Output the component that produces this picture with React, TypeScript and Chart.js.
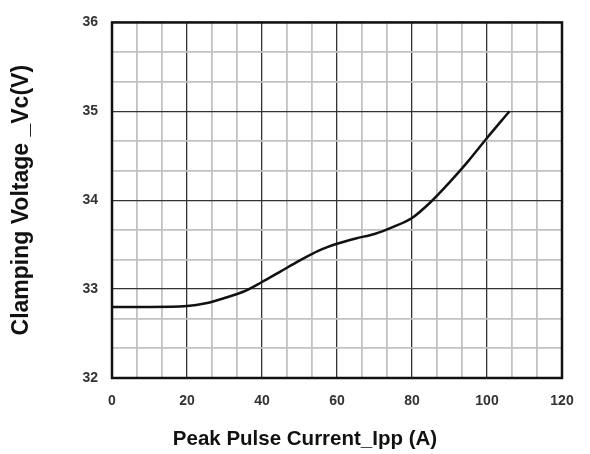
import React, { useEffect, useRef } from "react";
import { Chart, registerables } from "chart.js";

Chart.register(...registerables);

const currentA = [0, 10, 20, 25, 30, 35, 40, 45, 50, 55, 60, 65, 70, 75, 80, 85, 90, 95, 100, 106];
const voltageV = [32.8, 32.8, 32.81, 32.84, 32.9, 32.97, 33.08, 33.2, 33.32, 33.43, 33.51, 33.57, 33.62, 33.7, 33.8, 33.98, 34.2, 34.44, 34.7, 35.0];
const xMajorTicks = [0, 20, 40, 60, 80, 100, 120];
const yMajorTicks = [32, 33, 34, 35, 36];
const xMinorDiv = 3;
const yMinorDiv = 3;
const xTitle = "Peak Pulse Current_Ipp (A)";
const yTitle = "Clamping Voltage _Vc(V)";

const FONT = "'Liberation Sans', Arial, sans-serif";

function buildTicks(majors: number[], div: number) {
  const out: { value: number; major: boolean }[] = [];
  for (let i = 0; i < majors.length; i++) {
    out.push({ value: majors[i], major: true });
    if (i < majors.length - 1) {
      const step = (majors[i + 1] - majors[i]) / div;
      for (let k = 1; k < div; k++) out.push({ value: majors[i] + step * k, major: false });
    }
  }
  return out;
}

export default function App() {
  const ref = useRef<HTMLCanvasElement>(null);
  useEffect(() => {
    const xt = buildTicks(xMajorTicks, xMinorDiv);
    const yt = buildTicks(yMajorTicks, yMinorDiv);
    const frame = {
      id: "frame",
      afterDatasetsDraw(chart: any) {
        const { ctx, chartArea } = chart;
        ctx.save();
        ctx.strokeStyle = "#111";
        ctx.lineWidth = 2.5;
        ctx.strokeRect(chartArea.left, chartArea.top, chartArea.right - chartArea.left, chartArea.bottom - chartArea.top);
        ctx.fillStyle = "#111";
        ctx.font = `bold 20.5px ${FONT}`;
        ctx.textAlign = "center";
        ctx.textBaseline = "middle";
        ctx.fillText(xTitle, chartArea.left + 193, 439);
        ctx.restore();
      },
    };
    const chart = new Chart(ref.current!, {
      type: "line",
      data: {
        datasets: [
          {
            data: currentA.map((x, i) => ({ x, y: voltageV[i] })),
            borderColor: "#111",
            borderWidth: 2.5,
            pointRadius: 0,
            cubicInterpolationMode: "monotone",
            fill: false,
          },
        ],
      },
      options: {
        animation: false,
        responsive: false,
        layout: { padding: { top: 15, right: 28, left: 0, bottom: 0 } },
        plugins: { legend: { display: false }, tooltip: { enabled: false } },
        scales: {
          x: {
            type: "linear",
            min: 0,
            max: 120,
            afterBuildTicks: (s: any) => { s.ticks = xt.map((t) => ({ value: t.value, major: t.major })); },
            afterFit: (s: any) => { s.height = 76; },
            ticks: {
              autoSkip: false,
              maxRotation: 0,
              padding: 15,
              color: "#333",
              font: { family: FONT, size: 14, weight: "bold" },
              callback: (v: any) => {
                const n = Number(v);
                return xMajorTicks.some((m) => Math.abs(m - n) < 1e-6) ? String(Math.round(n)) : "";
              },
            },
            grid: {
              drawTicks: false,
              color: (c: any) => (c.tick && c.tick.major ? "#333" : "#c2c2c2"),
              lineWidth: (c: any) => (c.tick && c.tick.major ? 1.3 : 1.8),
            },
            border: { display: false },
            title: { display: false },
          },
          y: {
            type: "linear",
            min: 32,
            max: 36,
            afterBuildTicks: (s: any) => { s.ticks = yt.map((t) => ({ value: t.value, major: t.major })); },
            afterFit: (s: any) => { s.width = 112; },
            ticks: {
              autoSkip: false,
              padding: 14,
              color: "#333",
              font: { family: FONT, size: 14, weight: "bold" },
              callback: (v: any) => {
                const n = Number(v);
                return yMajorTicks.some((m) => Math.abs(m - n) < 1e-6) ? String(Math.round(n)) : "";
              },
            },
            grid: {
              drawTicks: false,
              color: (c: any) => (c.tick && c.tick.major ? "#333" : "#c2c2c2"),
              lineWidth: (c: any) => (c.tick && c.tick.major ? 1.3 : 1.8),
            },
            border: { display: false },
            title: {
              display: true,
              text: yTitle,
              color: "#111",
              font: { family: FONT, size: 23, weight: "bold" },
              padding: { top: 8, bottom: 0 },
            },
          },
        },
      } as any,
      plugins: [frame],
    });
    return () => chart.destroy();
  }, []);
  return (
    <div style={{ position: "fixed", left: 0, top: 0, width: 590, height: 454, background: "#fff" }}>
      <canvas ref={ref} width={590} height={454} />
    </div>
  );
}
